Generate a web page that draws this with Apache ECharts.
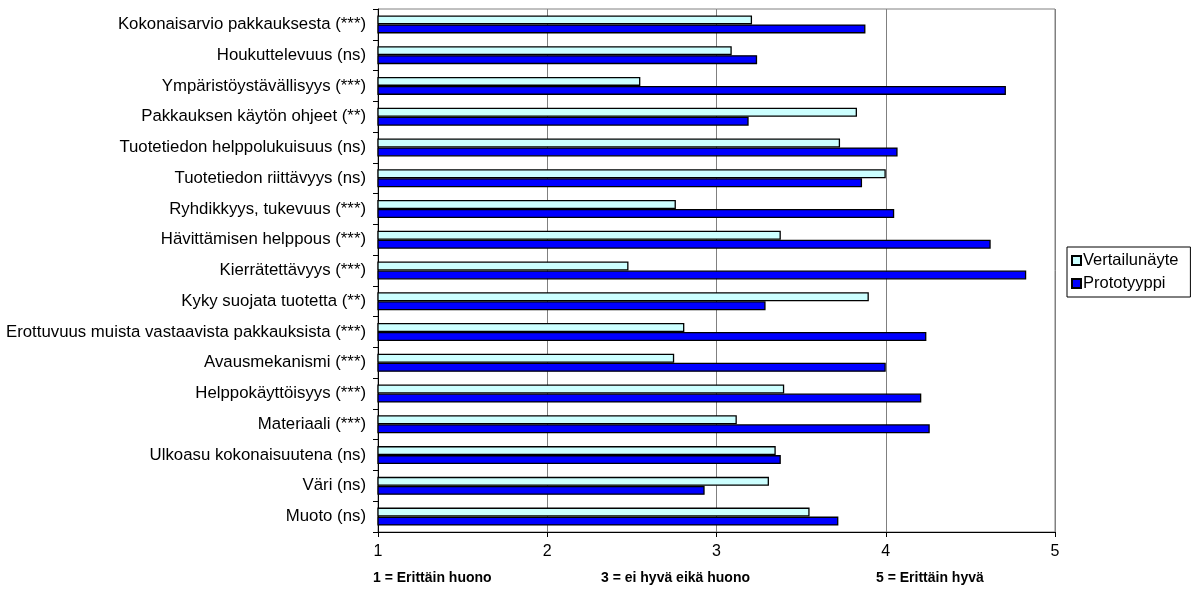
<!DOCTYPE html>
<html>
<head>
<meta charset="utf-8">
<script src="https://cdn.jsdelivr.net/npm/echarts@6/dist/echarts.min.js"></script>
<style>
  html, body { margin: 0; padding: 0; background: #fff; }
  #chart { width: 1200px; height: 593px; }
</style>
</head>
<body>
<div id="chart"></div>
<script>
// Pakkausarviot: keskiarvot asteikolla 1–5
const categories = [
  'Kokonaisarvio pakkauksesta (***)',
  'Houkuttelevuus (ns)',
  'Ympäristöystävällisyys (***)',
  'Pakkauksen käytön ohjeet (**)',
  'Tuotetiedon helppolukuisuus (ns)',
  'Tuotetiedon riittävyys (ns)',
  'Ryhdikkyys, tukevuus (***)',
  'Hävittämisen helppous (***)',
  'Kierrätettävyys (***)',
  'Kyky suojata tuotetta (**)',
  'Erottuvuus muista vastaavista pakkauksista (***)',
  'Avausmekanismi (***)',
  'Helppokäyttöisyys (***)',
  'Materiaali (***)',
  'Ulkoasu kokonaisuutena (ns)',
  'Väri (ns)',
  'Muoto (ns)'
];
const seriesNames = ['Vertailunäyte', 'Prototyyppi'];
const vertailunayte = [3.21, 3.09, 2.55, 3.83, 3.73, 4.00, 2.76, 3.38, 2.48, 3.90, 2.81, 2.75, 3.40, 3.12, 3.35, 3.31, 3.55];
const prototyyppi  = [3.88, 3.24, 4.71, 3.19, 4.07, 3.86, 4.05, 4.62, 4.83, 3.29, 4.24, 4.00, 4.21, 4.26, 3.38, 2.93, 3.72];
const scaleTicks = [1, 2, 3, 4, 5];
const scaleCaptions = ['1 = Erittäin huono', '3 = ei hyvä eikä huono', '5 = Erittäin hyvä'];

const FONT = '"Liberation Sans", Arial, sans-serif';
const chart = echarts.init(document.getElementById('chart'), null, { renderer: 'canvas' });

const captionX = [373, 601, 876];

chart.setOption({
  animation: false,
  backgroundColor: '#ffffff',
  textStyle: { fontFamily: FONT },
  grid: {
    left: 378, right: 145, top: 9, bottom: 61,
    show: true, borderColor: '#808080', borderWidth: 1, backgroundColor: 'transparent'
  },
  legend: {
    orient: 'vertical',
    left: 1067, top: 247,
    padding: [5, 12, 5, 4],
    itemGap: 6,
    itemWidth: 9, itemHeight: 9,
    borderColor: '#000', borderWidth: 1,
    icon: 'rect',
    textStyle: { fontFamily: FONT, fontSize: 16.5, color: '#000', padding: [0, 0, 0, -3] },
    data: seriesNames
  },
  xAxis: {
    type: 'value',
    min: scaleTicks[0], max: scaleTicks[scaleTicks.length - 1], interval: 1,
    axisLine: { show: true, lineStyle: { color: '#000', width: 1 } },
    axisTick: { show: true, inside: false, length: 5, lineStyle: { color: '#000' } },
    axisLabel: { color: '#000', fontSize: 16, fontFamily: FONT, margin: 12 },
    splitLine: { show: true, lineStyle: { color: '#808080', width: 1 } }
  },
  yAxis: {
    type: 'category',
    data: categories,
    inverse: true,
    axisLine: { show: true, lineStyle: { color: '#000', width: 1 } },
    axisTick: { show: true, inside: false, length: 5, lineStyle: { color: '#000' } },
    axisLabel: { color: '#000', fontSize: 16.8, fontFamily: FONT, margin: 12 },
    splitLine: { show: false }
  },
  series: [
    {
      name: seriesNames[0], type: 'bar', data: vertailunayte,
      barWidth: 9, barGap: '0%',
      itemStyle: { color: '#CCFFFF', borderColor: '#000', borderWidth: 1.3 }
    },
    {
      name: seriesNames[1], type: 'bar', data: prototyyppi,
      barWidth: 9, barGap: '0%',
      itemStyle: { color: '#0000FF', borderColor: '#000', borderWidth: 1.3 }
    }
  ],
  graphic: scaleCaptions.map((t, i) => ({
    type: 'text', left: captionX[i], top: 571,
    style: { text: t, fontFamily: FONT, fontSize: 14, fontWeight: 'bold', fill: '#000' }
  }))
});
</script>
</body>
</html>
